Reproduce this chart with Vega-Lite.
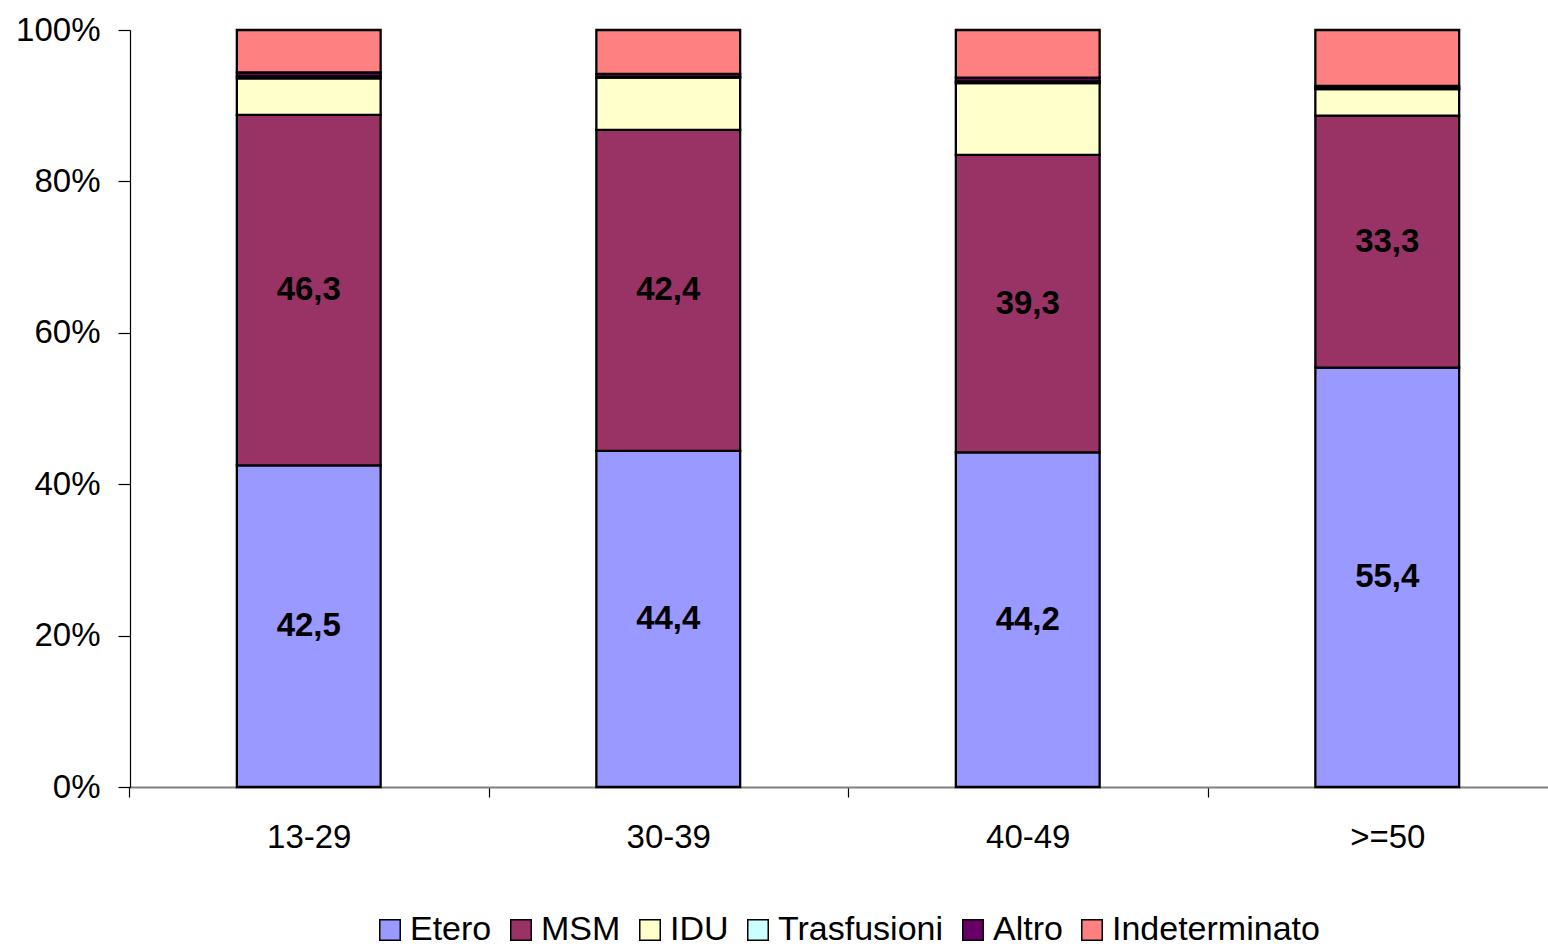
{
  "$schema": "https://vega.github.io/schema/vega-lite/v6.json",
  "width": 1418,
  "height": 757,
  "autosize": {"type": "none"},
  "padding": {"left": 130, "top": 30, "right": 0, "bottom": 159},
  "background": "white",
  "config": {
    "view": {"stroke": null},
    "font": "Liberation Sans",
    "locale": {"number": {"decimal": ",", "thousands": ".", "grouping": [3], "currency": ["", "€"]}}
  },
  "data": {
    "values": [
      {"age": "13-29", "cat": "Etero", "k": 1, "v": 42.5},
      {"age": "13-29", "cat": "MSM", "k": 2, "v": 46.3},
      {"age": "13-29", "cat": "IDU", "k": 3, "v": 4.8},
      {"age": "13-29", "cat": "Trasfusioni", "k": 4, "v": 0.3},
      {"age": "13-29", "cat": "Altro", "k": 5, "v": 0.5},
      {"age": "13-29", "cat": "Indeterminato", "k": 6, "v": 5.6},
      {"age": "30-39", "cat": "Etero", "k": 1, "v": 44.4},
      {"age": "30-39", "cat": "MSM", "k": 2, "v": 42.4},
      {"age": "30-39", "cat": "IDU", "k": 3, "v": 6.9},
      {"age": "30-39", "cat": "Trasfusioni", "k": 4, "v": 0.1},
      {"age": "30-39", "cat": "Altro", "k": 5, "v": 0.4},
      {"age": "30-39", "cat": "Indeterminato", "k": 6, "v": 5.8},
      {"age": "40-49", "cat": "Etero", "k": 1, "v": 44.2},
      {"age": "40-49", "cat": "MSM", "k": 2, "v": 39.3},
      {"age": "40-49", "cat": "IDU", "k": 3, "v": 9.5},
      {"age": "40-49", "cat": "Trasfusioni", "k": 4, "v": 0.2},
      {"age": "40-49", "cat": "Altro", "k": 5, "v": 0.5},
      {"age": "40-49", "cat": "Indeterminato", "k": 6, "v": 6.3},
      {"age": ">=50", "cat": "Etero", "k": 1, "v": 55.4},
      {"age": ">=50", "cat": "MSM", "k": 2, "v": 33.3},
      {"age": ">=50", "cat": "IDU", "k": 3, "v": 3.5},
      {"age": ">=50", "cat": "Trasfusioni", "k": 4, "v": 0.1},
      {"age": ">=50", "cat": "Altro", "k": 5, "v": 0.3},
      {"age": ">=50", "cat": "Indeterminato", "k": 6, "v": 7.4}
    ]
  },
  "encoding": {
    "x": {
      "field": "age",
      "type": "nominal",
      "sort": ["13-29", "30-39", "40-49", ">=50"],
      "scale": {"range": [-1, 1437], "paddingInner": 0, "paddingOuter": 0},
      "axis": {
        "title": null,
        "labelAngle": 0,
        "labelFontSize": 33,
        "labelColor": "black",
        "labelPadding": 24,
        "domainColor": "#808080",
        "domainWidth": 2,
        "tickBand": "extent",
        "tickColor": "black",
        "tickSize": 10,
        "tickWidth": 1.2
      }
    }
  },
  "layer": [
    {
      "mark": {"type": "bar", "width": {"band": 0.4}, "stroke": "black", "strokeWidth": 2.3},
      "encoding": {
        "y": {
          "field": "v",
          "type": "quantitative",
          "stack": "zero",
          "scale": {"domain": [0, 100], "nice": false},
          "axis": {
            "title": null,
            "values": [0, 20, 40, 60, 80, 100],
            "labelExpr": "datum.value + '%'",
            "labelFontSize": 33,
            "labelColor": "black",
            "labelPadding": 18,
            "grid": false,
            "domainColor": "black",
            "domainWidth": 1.2,
            "tickColor": "black",
            "tickSize": 12,
            "tickWidth": 1.2
          }
        },
        "color": {
          "field": "cat",
          "type": "nominal",
          "scale": {
            "domain": ["Etero", "MSM", "IDU", "Trasfusioni", "Altro", "Indeterminato"],
            "range": ["#9999FF", "#993366", "#FFFFCC", "#CCFFFF", "#660066", "#FF8080"]
          },
          "legend": {
            "title": null,
            "orient": "none",
            "direction": "horizontal",
            "legendX": 243,
            "legendY": 883,
            "padding": 0,
            "symbolType": "square",
            "symbolSize": 420,
            "symbolStrokeColor": "black",
            "symbolStrokeWidth": 1.5,
            "symbolOpacity": 1,
            "labelFontSize": 34,
            "labelColor": "black",
            "labelOffset": 3,
            "columnPadding": 12,
            "labelLimit": 400
          }
        },
        "order": {"field": "k", "type": "quantitative"}
      }
    },
    {
      "transform": [
        {"stack": "v", "groupby": ["age"], "sort": [{"field": "k", "order": "ascending"}], "as": ["y0", "y1"]},
        {"filter": "datum.k <= 2"},
        {"fold": ["y0", "y1"], "as": ["w", "pos"]},
        {"aggregate": [{"op": "mean", "field": "pos", "as": "mid"}], "groupby": ["age", "v", "k"]}
      ],
      "mark": {"type": "text", "fontSize": 33, "fontWeight": "bold", "baseline": "middle", "color": "black"},
      "encoding": {
        "y": {"field": "mid", "type": "quantitative", "axis": {"title": null}},
        "text": {"field": "v", "type": "quantitative", "format": ".1f"}
      }
    }
  ]
}
